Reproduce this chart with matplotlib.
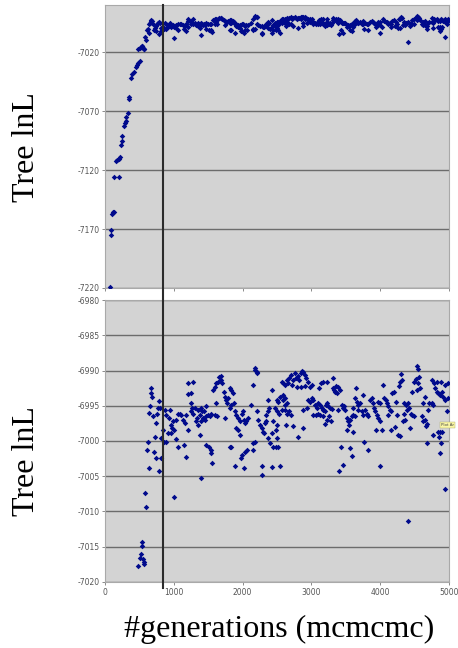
import matplotlib
matplotlib.use('Agg')
import matplotlib.pyplot as plt
import matplotlib.transforms as mtransforms
from matplotlib.lines import Line2D

plt.rcParams['axes.unicode_minus'] = False

# burn-in climb, only visible on the wide top scale
burn_gen = [68, 82, 92, 102, 116, 131, 131, 204, 155, 175, 204, 223, 228, 243, 252,
            272, 286, 301, 310, 335, 344, 354, 373, 393, 417, 446, 466, 485, 504]
burn_lnl = [-7219.2, -7175.1, -7170.6, -7157.2, -7155.8, -7155.2, -7125.7, -7125.7,
            -7112.3, -7111.5, -7110.3, -7108.6, -7098.4, -7095.3, -7091.0, -7082.5,
            -7080.2, -7078.5, -7075.4, -7071.7, -7059.8, -7057.8, -7042.2, -7038.8,
            -7037.0, -7032.8, -7030.8, -7029.1, -7027.1]

# samples 0-1250
gen_a = [480, 504, 524, 538, 543, 553, 563, 567, 587, 601, 616, 626, 640, 640, 650,
         664, 674, 689, 698, 713, 723, 737, 747, 757, 771, 786, 786, 805, 820, 820,
         844, 854, 868, 892, 892, 917, 931, 941, 955, 965, 980, 989, 999, 999, 1028,
         1038, 1062, 1062, 1086, 1111, 1135, 1149, 1159, 1183, 1183, 1208, 1213]
lnl_a = [-7017.7, -7016.6, -7016.0, -7014.4, -7014.9, -7016.8, -7017.4, -7017.1,
         -7007.4, -7009.4, -7001.3, -7000.1, -7003.9, -6996.0, -6995.1, -6992.5,
         -6993.2, -6993.8, -6996.4, -7001.6, -6999.5, -7002.4, -6997.5, -6996.1,
         -6995.3, -6994.3, -7004.3, -6995.3, -6999.6, -7002.4, -6998.4, -7000.1,
         -6995.6, -6996.3, -7000.2, -6998.9, -6996.8, -6995.6, -6998.8, -6997.7,
         -6998.2, -6997.2, -6998.4, -7007.9, -6997.0, -6999.7, -6996.1, -7000.8,
         -6996.1, -6996.3, -6997.0, -7000.5, -6997.5, -6996.3, -7002.3, -6991.8,
         -6993.4]

# samples 1200-2450
gen_b = [1280, 1246, 1256, 1266, 1246, 1280, 1305, 1353, 1392, 1411, 1377, 1343, 1329,
         1353, 1392, 1426, 1450, 1474, 1499, 1523, 1537, 1474, 1440, 1382, 1208, 1571,
         1596, 1620, 1644, 1659, 1683, 1693, 1702, 1731, 1751, 1765, 1790, 1814, 1838,
         1862, 1780, 1814, 1838, 1877, 1620, 1596, 1634, 1751, 1474, 1508, 1537, 1547,
         1557, 1392, 1814, 1838, 1887, 1911, 1935, 1959, 1984, 2008, 2022, 2032, 2056,
         2081, 1911, 1935, 1959, 1887, 2022, 1974, 1993, 2032, 2061, 2129, 2153, 2178,
         2202, 2216, 2187, 2144, 2153, 2187, 2202, 2226, 2250, 2275, 2299, 2323, 2347,
         2362, 2381, 2333, 2313, 2362, 2396, 2430, 2444, 2430, 2275, 2284, 2430, 2372]
lnl_b = [-6991.6, -6993.2, -6994.6, -6995.3, -6995.8, -6996.1, -6995.3, -6995.6,
         -6995.3, -6995.8, -6996.3, -6996.8, -6997.2, -6997.7, -6997.2, -6996.8,
         -6997.0, -6996.5, -6996.3, -6996.5, -6996.1, -6995.1, -6995.8, -6999.1,
         -6998.4, -6992.8, -6992.3, -6991.8, -6991.6, -6990.9, -6990.8, -6991.3,
         -6991.8, -6993.0, -6993.7, -6994.2, -6993.9, -6992.5, -6992.8, -6993.2,
         -6994.6, -6995.3, -6994.9, -6994.6, -6994.6, -6996.3, -6996.5, -6996.7,
         -7000.5, -7000.8, -7001.3, -7001.7, -7003.1, -7005.3, -7000.8, -7000.8,
         -6995.8, -6996.3, -6996.8, -6997.2, -6996.1, -6995.8, -6997.0, -6997.5,
         -6997.2, -6996.8, -6998.2, -6998.4, -6999.1, -7003.6, -7003.8, -7002.4,
         -7002.0, -7001.5, -7001.3, -6994.9, -6992.0, -6989.9, -6990.2, -6990.4,
         -6989.7, -7000.3, -7001.3, -7000.1, -6995.8, -6997.0, -6997.7, -6998.2,
         -6998.7, -6997.5, -6997.2, -6995.8, -6995.3, -6996.3, -6998.9, -6999.6,
         -7000.3, -6998.9, -6997.2, -6992.8, -7003.6, -7004.8, -7003.7, -6994.2]

# samples 2450-3700
gen_c = [2493, 2517, 2541, 2580, 2590, 2614, 2469, 2503, 2532, 2566, 2614, 2638, 2483,
         2493, 2503, 2435, 2483, 2517, 2614, 2648, 2677, 2697, 2629, 2735, 2808, 2881,
         2541, 2566, 2590, 2614, 2638, 2663, 2677, 2697, 2711, 2735, 2760, 2774, 2794,
         2808, 2823, 2842, 2857, 2881, 2905, 2920, 2954, 2978, 3002, 2905, 2842, 2881,
         2929, 2954, 2978, 3002, 3026, 3051, 3075, 3099, 3123, 3148, 3172, 3196, 3211,
         3230, 3245, 3269, 3293, 3026, 3065, 3099, 3123, 3172, 3220, 3259, 3279, 3196,
         3114, 3133, 3172, 3220, 3317, 3308, 3327, 3356, 3390, 3414, 3366, 3342, 3390,
         3439, 3453, 3473, 3487, 3511, 3536, 3560, 3584, 3599, 3550, 3521, 3608, 3633,
         3657, 3681, 3647, 3608, 3424, 3560, 3584, 3453, 3405]
lnl_c = [-6994.2, -6994.4, -6993.7, -6993.5, -6994.2, -6993.9, -6995.3, -6995.8,
         -6996.1, -6995.6, -6994.9, -6994.6, -6998.4, -6997.7, -6999.6, -7000.8,
         -7000.8, -7000.8, -6995.6, -6996.1, -6995.8, -6996.3, -6997.7, -6997.9,
         -6999.5, -6998.2, -7003.6, -6991.6, -6991.8, -6992.0, -6991.4, -6991.8,
         -6991.1, -6990.6, -6992.0, -6991.3, -6990.4, -6991.1, -6992.3, -6990.8,
         -6991.3, -6990.3, -6990.0, -6990.2, -6990.6, -6991.1, -6991.6, -6992.3,
         -6992.0, -6992.2, -6992.3, -6995.6, -6995.3, -6994.2, -6994.4, -6993.9,
         -6994.2, -6994.9, -6995.3, -6994.6, -6994.9, -6995.3, -6995.6, -6995.8,
         -6994.9, -6994.6, -6995.1, -6995.3, -6995.5, -6996.3, -6996.3, -6996.1,
         -6996.3, -6996.5, -6997.0, -6996.5, -6997.2, -6997.6, -6992.5, -6991.8,
         -6991.6, -6991.6, -6991.1, -6992.5, -6992.8, -6992.2, -6992.3, -6992.8,
         -6993.2, -6993.0, -6995.6, -6994.9, -6995.3, -6995.1, -6995.6, -6996.8,
         -6997.2, -6997.0, -6996.5, -6996.3, -6997.7, -6998.4, -6998.7, -6993.9,
         -6994.4, -6994.9, -6992.5, -6995.3, -7000.9, -7001.0, -7002.1, -7003.4,
         -7004.3]

# samples 3700-5000
gen_d = [3705, 3633, 3671, 3730, 3754, 3778, 3802, 3827, 3754, 3851, 3875, 3899, 3914,
         3924, 3948, 3972, 3996, 3933, 4021, 3768, 3817, 3992, 3972, 3996, 4035, 4059,
         4079, 4093, 4118, 4142, 4108, 4156, 4176, 4205, 4224, 4239, 4156, 4215, 4253,
         4287, 4273, 4287, 4312, 4302, 4350, 4370, 4384, 4409, 4418, 4350, 4360, 4336,
         4433, 4447, 4467, 4496, 4467, 4496, 4515, 4530, 4554, 4564, 4544, 4530, 4578,
         4603, 4627, 4651, 4661, 4675, 4690, 4709, 4627, 4651, 4758, 4787, 4821, 4797,
         4821, 4845, 4869, 4903, 4918, 4942, 4981, 4884, 4758, 4772, 4835, 4855, 4869,
         4903, 4884, 4772, 4675, 4942, 4966, 4869, 4942, 4409, 4991]
lnl_d = [-6994.6, -6996.5, -6995.6, -6995.8, -6996.3, -6995.6, -6996.1, -6996.5,
         -6993.5, -6994.2, -6993.9, -6994.6, -6995.3, -6995.8, -6996.3, -6996.8,
         -6997.2, -6998.4, -6998.4, -7000.1, -7001.3, -7003.5, -6994.4, -6994.6,
         -6992.0, -6993.9, -6994.2, -6994.6, -6995.1, -6995.6, -6996.3, -6995.8,
         -6993.2, -6993.0, -6994.4, -6996.3, -6998.4, -6998.0, -6999.1, -6999.3,
         -6992.2, -6991.6, -6991.3, -6990.5, -6994.6, -6994.9, -6995.6, -6994.6,
         -6995.3, -6996.1, -6997.0, -6997.1, -6998.2, -6996.1, -6996.3, -6996.5,
         -6993.0, -6991.6, -6991.2, -6989.4, -6989.8, -6990.9, -6991.8, -6992.8,
         -6992.5, -6996.5, -6997.2, -6997.0, -6997.9, -6997.6, -6995.6, -6994.6,
         -6994.6, -6993.7, -6991.3, -6991.8, -6991.6, -6992.5, -6993.0, -6993.2,
         -6993.5, -6993.0, -6993.7, -6992.0, -6991.8, -6991.6, -6994.6, -6994.9,
         -6998.7, -6999.4, -6998.7, -6998.7, -7000.3, -6999.1, -7000.3, -6994.2,
         -6995.8, -7001.7, -7006.8, -7011.4, -6993.9]

burnin_cut = 839

gen = burn_gen + gen_a + gen_b + gen_c + gen_d
lnl = burn_lnl + lnl_a + lnl_b + lnl_c + lnl_d

fig = plt.figure(figsize=(4.58, 6.48), dpi=100)
ax_top = fig.add_axes([0.2293, 0.5556, 0.7511, 0.4367])
ax_bot = fig.add_axes([0.2293, 0.1019, 0.7511, 0.4351])

for ax in (ax_top, ax_bot):
    ax.set_facecolor('#d3d3d3')
    ax.scatter(gen, lnl, marker='D', s=8, color='#000a8c', linewidths=0, zorder=3)
    ax.set_xlim(0, 5000)
    ax.set_xticks(range(0, 5001, 1000))
    ax.yaxis.grid(True, color='#6c6c6c', lw=1.0)
    ax.set_axisbelow(True)
    for sp in ax.spines.values():
        sp.set_color('#a9a9a9')
        sp.set_linewidth(0.8)
    ax.tick_params(length=2, width=0.6, color='#777777', labelsize=5.5,
                   labelcolor='#555555', pad=2)

ax_top.set_ylim(-7220, -6980)
ax_top.set_yticks(range(-7220, -7019, 50))
ax_top.set_xticklabels([])

ax_bot.set_ylim(-7020, -6980)
ax_bot.set_yticks(range(-7020, -6979, 5))

# burn-in cutoff line across both panels
trans = mtransforms.blended_transform_factory(ax_top.transData, fig.transFigure)
fig.add_artist(Line2D([burnin_cut, burnin_cut], [0.0926, 0.9923], transform=trans,
                      color='#2b2b2b', lw=1.5, zorder=5))

# excel tooltip left in the screenshot
ax_bot.text(4880, -6997.7, 'Plot Ar', fontsize=2.8, color='#444444', va='center',
            bbox=dict(boxstyle='square,pad=0.25', facecolor='#fbf7a6', edgecolor='#aaaa66', lw=0.3),
            clip_on=False, zorder=6)

serif = ['Liberation Serif', 'DejaVu Serif']
fig.text(0.057, 0.773, 'Tree lnL', rotation=90, fontsize=23, family=serif,
         ha='center', va='center')
fig.text(0.057, 0.289, 'Tree lnL', rotation=90, fontsize=23, family=serif,
         ha='center', va='center')
fig.text(0.609, 0.028, '#generations (mcmcmc)', fontsize=23, family=serif,
         ha='center', va='center')

plt.savefig('out.png', dpi=100)
